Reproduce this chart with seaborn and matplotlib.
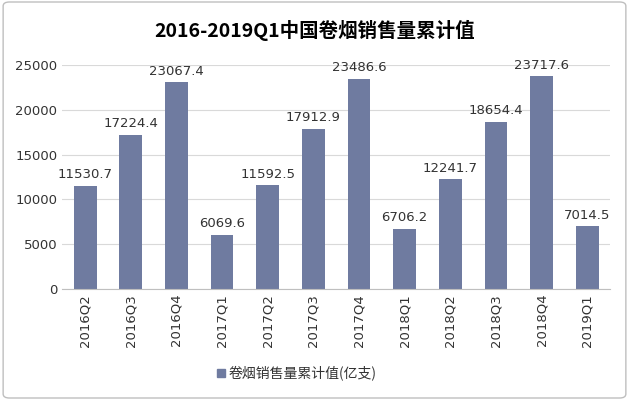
import matplotlib.pyplot as plt
import seaborn as sns
import pandas as pd
from matplotlib import font_manager
from matplotlib.font_manager import FontProperties
from matplotlib.patches import FancyBboxPatch

# pick static CJK font files (variable fonts render too thin)
all_files = sorted(font_manager.findSystemFonts())
skip = ('Light', 'Thin', 'Demi', 'Medium', 'Black', 'Semi', 'Extra', 'Serif', 'Mono', 'wght')


def pick(weight):
    for key in ('CJKsc', 'CJKSC', 'CJK', 'SC'):
        c = [f for f in all_files if key in f.split('/')[-1] and weight in f.split('/')[-1]
             and not any(s in f.split('/')[-1] for s in skip)]
        if c:
            return c[0]
    return None


reg_file = pick('Regular')
bold_file = pick('Bold') or reg_file
fp_reg = FontProperties(fname=reg_file) if reg_file else FontProperties()
fp_bold = FontProperties(fname=bold_file) if bold_file else FontProperties(weight='bold')

quarters = ['2016Q2', '2016Q3', '2016Q4', '2017Q1', '2017Q2', '2017Q3', '2017Q4',
            '2018Q1', '2018Q2', '2018Q3', '2018Q4', '2019Q1']
sales = [11530.7, 17224.4, 23067.4, 6069.6, 11592.5, 17912.9, 23486.6,
         6706.2, 12241.7, 18654.4, 23717.6, 7014.5]
series_name = '卷烟销售量累计值(亿支)'

df = pd.DataFrame({'quarter': quarters, 'value': sales})
color = '#6f7ba0'

fig = plt.figure(figsize=(6.29, 4), dpi=100)
fig.patches.append(FancyBboxPatch((0.005, 0.005), 0.99, 0.99, boxstyle='round,pad=0,rounding_size=0.01',
                                  transform=fig.transFigure, fill=False, edgecolor='#bfbfbf', linewidth=1))
ax = fig.add_axes([0.099, 0.2775, 0.871, 0.56])
sns.barplot(data=df, x='quarter', y='value', color=color, width=0.5, ax=ax, saturation=1)

for i, v in enumerate(sales):
    ax.text(i, v + 500, f'{v:.1f}', ha='center', va='bottom', fontsize=9.5, color='#333333')

ax.set_ylim(0, 25000)
ax.set_yticks(range(0, 25001, 5000))
ax.yaxis.grid(True, color='#d9d9d9', linewidth=0.8)
ax.set_axisbelow(True)
for s in ['top', 'right', 'left']:
    ax.spines[s].set_visible(False)
ax.spines['bottom'].set_color('#bfbfbf')
ax.tick_params(axis='y', length=0, labelsize=9.5, colors='#333333')
ax.tick_params(axis='x', length=0, labelsize=9.5, colors='#333333', rotation=90)
ax.set_xlabel('')
ax.set_ylabel('')

fig.text(0.5, 0.925, '2016-2019Q1中国卷烟销售量累计值', ha='center', va='center',
         fontproperties=fp_bold, fontsize=14)
fig.patches.append(plt.Rectangle((0.345, 0.058), 0.013, 0.02, transform=fig.transFigure, color=color))
fig.text(0.364, 0.068, series_name, fontproperties=fp_reg, fontsize=10, va='center', color='#333333')

fig.savefig('out.png', dpi=100)
